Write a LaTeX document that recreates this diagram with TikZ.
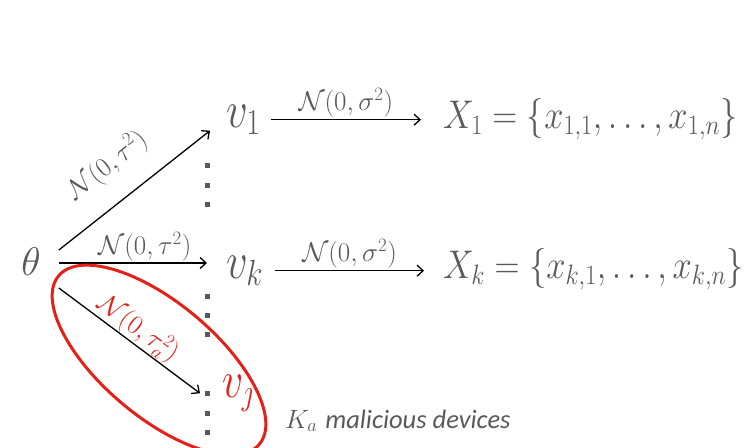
\RequirePackage{fix-cm}
\documentclass[tikz,border=0pt]{standalone}
\usepackage{fontspec}
\usepackage{amsmath}
\usetikzlibrary{arrows.meta,calc}
\newfontfamily\capfont{Carlito}
\definecolor{txt}{HTML}{595959}
\definecolor{redc}{HTML}{E32119}
\newcommand{\narrowx}[2]{\scalebox{#1}[1]{#2}}
\tikzset{
  thetanode/.style={text=txt, inner sep=0pt, font=\fontsize{40}{40}\selectfont},
  vnode/.style={text=txt, inner sep=0pt, font=\fontsize{52}{52}\selectfont},
  xnode/.style={text=txt, inner sep=0pt, font=\fontsize{40}{40}\selectfont},
  lab/.style={text=txt, inner sep=1pt, font=\fontsize{27}{27}\selectfont},
  arr/.style={-{Straight Barb[length=6pt,width=11pt]}, line width=1.3pt, black},
  dotsq/.style={fill=txt},
}
\begin{document}
\begin{tikzpicture}[x=1pt,y=-1pt]
\useasboundingbox (0,0) rectangle (744,447);
% nodes
\node[thetanode] (theta) at (31,262) {$\theta$};
\node[vnode, anchor=base west] (v1) at (226,127) {\narrowx{0.82}{$v_1$}};
\node[vnode, anchor=base west] (vk) at (226,278) {\narrowx{0.82}{$v_k$}};
\node[vnode, anchor=base west, text=redc] (vj) at (222,397) {\narrowx{0.8}{$v_j$}};
\node[xnode, anchor=base west] (X1) at (443,128) {\narrowx{0.865}{$X_1 = \{x_{1,1}, \ldots, x_{1,n}\}$}};
\node[xnode, anchor=base west] (Xk) at (443,278) {\narrowx{0.865}{$X_k = \{x_{k,1}, \ldots, x_{k,n}\}$}};
\node[text=txt, inner sep=0pt, anchor=base west, font=\fontsize{26.5}{26.5}\selectfont] (mal) at (285,428) {$K_a$ {\capfont\itshape malicious devices}};
% connectors
\draw[arr] ($(theta.east)+(18,-12)$) -- node[lab, pos=0.47, above=20pt, sloped] {$\mathcal{N}(0,\tau^2)$} ($(v1.west)+(-16,11)$);
\draw[arr] ($(theta.east)+(18,1)$) -- node[lab, pos=0.58, above] {$\mathcal{N}(0,\tau^2)$} ($(theta.east -| vk.west)+(-19,1)$);
\draw[arr] ($(theta.east)+(18,26)$) -- node[lab, text=redc, pos=0.5, above, sloped, inner sep=0pt] {$\mathcal{N}(0,\tau_a^2)$} ($(vj.west)+(-22,0)$);
\draw[arr] ($(v1.east)+(10,0)$) -- node[lab, above=1pt] {$\mathcal{N}(0,\sigma^2)$} ($(X1.west |- v1.east)+(-22,0)$);
\draw[arr] ($(vk.east)+(12,0)$) -- node[lab, above=1pt] {$\mathcal{N}(0,\sigma^2)$} ($(Xk.west |- vk.east)+(-19,0)$);
% dots
\foreach \yy in {165,185,204,296,315,334,393,413,432}
  \fill[dotsq] (204.5,\yy-2.5) rectangle ++(5,5);
% malicious ellipse
\draw[redc, line width=3pt] (159,360) ellipse [x radius=131pt, y radius=57pt, rotate=-40];
\end{tikzpicture}
\end{document}
